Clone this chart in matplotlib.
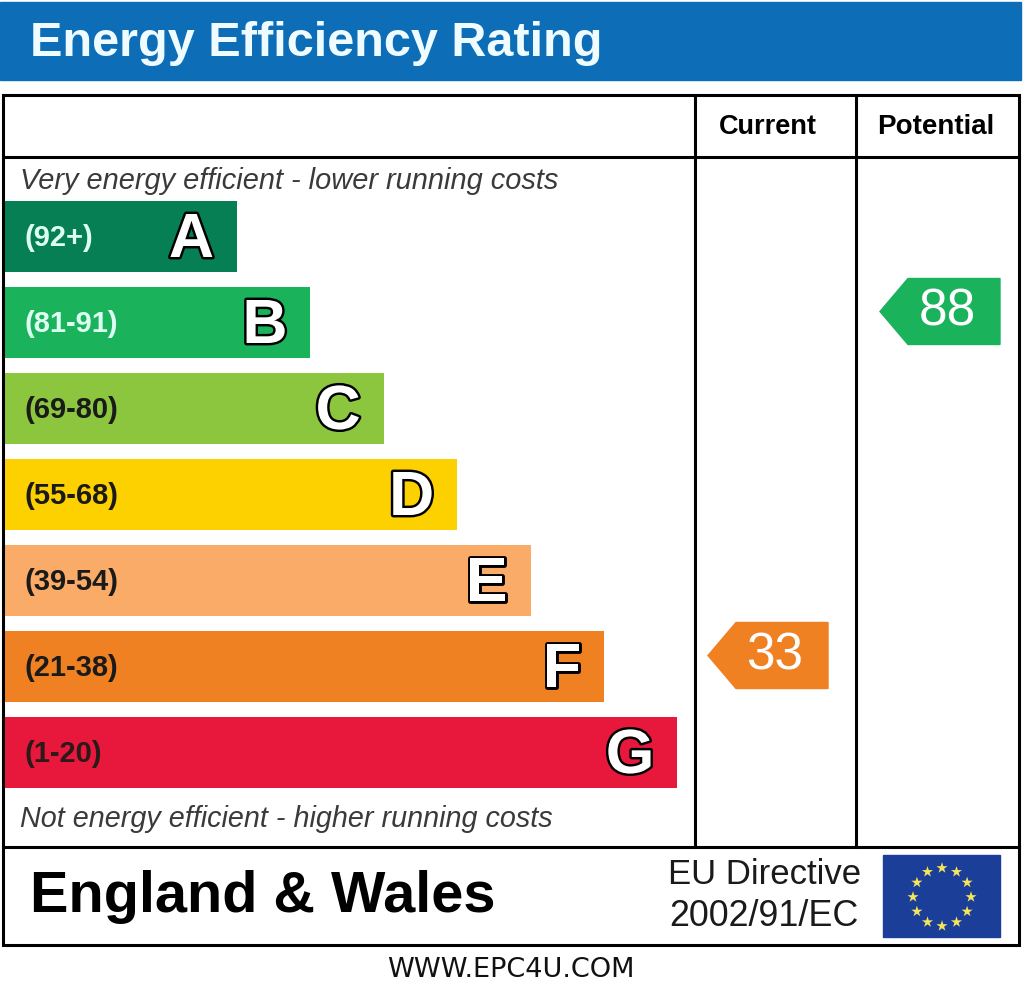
import matplotlib
matplotlib.use("Agg")
import matplotlib.pyplot as plt
import matplotlib.patheffects as pe
from matplotlib.patches import Rectangle, Polygon
import numpy as np

# ---- data ----
bands = ['A', 'B', 'C', 'D', 'E', 'F', 'G']
band_ranges = ['(92+)', '(81-91)', '(69-80)', '(55-68)', '(39-54)', '(21-38)', '(1-20)']
band_lower = [92, 81, 69, 55, 39, 21, 1]
band_colors = ['#077f55', '#1bb25c', '#8cc63f', '#fdd000', '#f9ab67', '#f08122', '#e8173c']
range_text_colors = ['#dcfff2', '#dcfff2', '#1a1a1a', '#1a1a1a', '#1a1a1a', '#1a1a1a', '#2a1a1a']
current_rating = 33
potential_rating = 88
column_titles = ['Current', 'Potential']

plt.rcParams['font.family'] = ['Liberation Sans', 'DejaVu Sans']

fig = plt.figure(figsize=(10.24, 9.93), dpi=100)
ax = fig.add_axes([0, 0, 1, 1])
ax.set_xlim(0, 1024)
ax.set_ylim(993, 0)
ax.axis('off')

# header
ax.add_patch(Rectangle((0, 2), 1021, 78, color='#0d6db6', zorder=1))
ax.text(30, 44, 'Energy Efficiency Rating', color='#eefbff', fontsize=35,
        fontweight='bold', va='center', ha='left', zorder=3)

# frame
lw = 2.2
ax.add_patch(Rectangle((3, 95), 1016, 850, fill=False, ec='black', lw=lw, zorder=5))
ax.plot([3, 1019], [157, 157], color='black', lw=lw, zorder=5)
ax.plot([3, 1019], [847, 847], color='black', lw=lw, zorder=5)
ax.plot([695, 695], [95, 847], color='black', lw=lw, zorder=5)
ax.plot([856, 856], [95, 847], color='black', lw=lw, zorder=5)

ax.text(768, 127, column_titles[0], fontsize=19.5, fontweight='bold', ha='center', va='center')
ax.text(936, 127, column_titles[1], fontsize=20, fontweight='bold', ha='center', va='center')

ax.text(20, 181, 'Very energy efficient - lower running costs', fontsize=20.9,
        style='italic', color='#3a3a3a', ha='left', va='center')
ax.text(20, 819, 'Not energy efficient - higher running costs', fontsize=20.7,
        style='italic', color='#3a3a3a', ha='left', va='center')

# bars
idx = np.arange(len(bands))
centers = 236.5 + 86 * idx
bar_left = 5
bar_ends = 237 + 73.4 * idx
ax.barh(centers, bar_ends - bar_left, left=bar_left, height=71, color=band_colors, zorder=2)
for i in idx:
    ax.text(25, centers[i] + 1, band_ranges[i], fontsize=21, fontweight='bold',
            color=range_text_colors[i], ha='left', va='center', zorder=3)
    t = ax.text(bar_ends[i] - 23, centers[i] + 4, bands[i], fontsize=45, fontweight='bold',
                color='white', ha='right', va='center', zorder=3)
    t.set_path_effects([pe.Stroke(linewidth=3.5, foreground='black'), pe.Normal()])


def band_of(r):
    for i, lo in enumerate(band_lower):
        if r >= lo:
            return i
    return len(band_lower) - 1


def draw_arrow(tip_x, rating):
    i = band_of(rating)
    yc = centers[i] - 11
    h = 33
    pts = [(tip_x, yc), (tip_x + 28, yc - h), (tip_x + 120, yc - h),
           (tip_x + 120, yc + h), (tip_x + 28, yc + h)]
    ax.add_patch(Polygon(pts, closed=True, color=band_colors[i], zorder=3))
    ax.text(tip_x + 67, yc + 1, str(rating), fontsize=37, color='white',
            ha='center', va='center', zorder=4)


draw_arrow(708, current_rating)
draw_arrow(880, potential_rating)

# bottom section
ax.text(30, 897, 'England & Wales', fontsize=41.5, fontweight='bold', ha='left', va='center')
ax.text(668, 875, 'EU Directive', fontsize=25, ha='left', va='center', color='#1a1a1a')
ax.text(669, 916, '2002/91/EC', fontsize=25.8, ha='left', va='center', color='#1a1a1a')

# EU flag
ax.add_patch(Rectangle((883, 855), 117, 82, color='#1b3f99', zorder=3))
ang = np.linspace(0, 2 * np.pi, 12, endpoint=False)
ax.scatter(942 + 29 * np.cos(ang), 897 + 29 * np.sin(ang), marker='*', s=70,
           color='#f6e55a', edgecolors='none', zorder=4)

ax.text(511, 970, 'WWW.EPC4U.COM', fontsize=19.5, family='DejaVu Sans', ha='center',
        va='center', color='#111111')

fig.savefig('out.png', dpi=100, facecolor='white')
